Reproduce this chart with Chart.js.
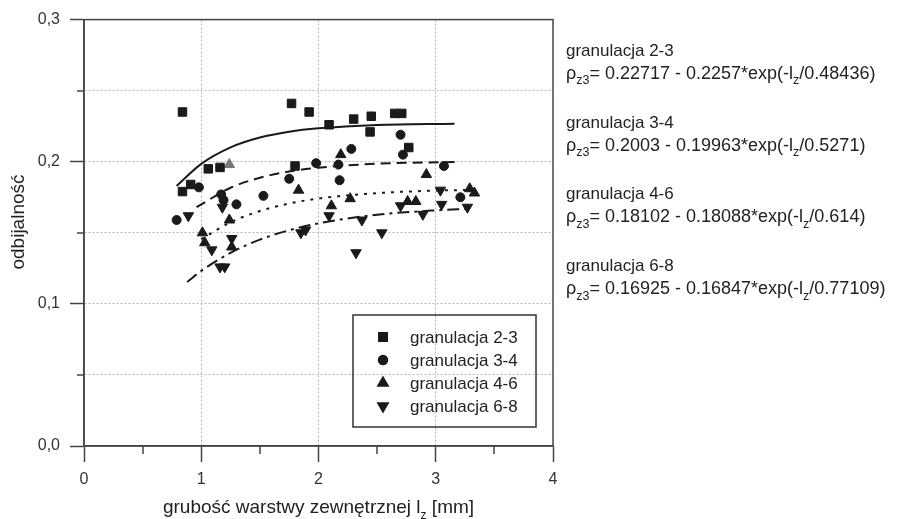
<!DOCTYPE html>
<html>
<head>
<meta charset="utf-8">
<script src="https://cdn.jsdelivr.net/npm/chart.js@4/dist/chart.umd.min.js"></script>
<style>
  html, body { margin: 0; padding: 0; background: #fff; }
</style>
</head>
<body>
<canvas id="myChart" width="899" height="519"></canvas>
<script>
// measured points, granulacja 2-3 (squares)
const g23X = [0.84, 0.84, 0.91, 1.06, 1.16, 1.77, 1.92, 1.80, 2.09, 2.30, 2.45, 2.44, 2.65, 2.71, 2.77]
const g23Y = [0.235, 0.179, 0.184, 0.195, 0.196, 0.241, 0.235, 0.197, 0.226, 0.230, 0.232, 0.221, 0.234, 0.234, 0.210]
// granulacja 3-4 (circles)
const g34X = [0.79, 0.98, 1.17, 1.19, 1.30, 1.53, 1.75, 1.98, 2.17, 2.18, 2.28, 2.70, 2.72, 3.07, 3.21]
const g34Y = [0.159, 0.182, 0.177, 0.173, 0.170, 0.176, 0.188, 0.199, 0.198, 0.187, 0.209, 0.219, 0.205, 0.197, 0.175]
// granulacja 4-6 (triangles)
const g46X = [1.01, 1.03, 1.24, 1.26, 1.24, 1.83, 2.11, 2.19, 2.27, 2.76, 2.83, 2.92, 3.29, 3.33]
const g46Y = [0.150, 0.143, 0.159, 0.140, 0.198, 0.180, 0.169, 0.205, 0.174, 0.172, 0.172, 0.191, 0.181, 0.178]
const g46GreyIdx = 4
// granulacja 6-8 (down triangles)
const g68X = [0.89, 1.18, 1.09, 1.26, 1.16, 1.20, 1.85, 1.89, 2.09, 2.32, 2.37, 2.54, 2.70, 2.89, 3.04, 3.05, 3.27]
const g68Y = [0.162, 0.168, 0.138, 0.146, 0.126, 0.126, 0.150, 0.152, 0.162, 0.136, 0.159, 0.150, 0.169, 0.163, 0.180, 0.170, 0.168]

// fitted curves
const fit23X = [0.79, 1.0, 1.25, 1.5, 1.75, 2.0, 2.5, 3.16]
const fit23Y = [0.183, 0.1985, 0.2101, 0.2170, 0.2211, 0.2235, 0.2259, 0.2268]
const fit34X = [0.96, 1.25, 1.5, 1.75, 2.0, 2.5, 3.18]
const fit34Y = [0.168, 0.1817, 0.1887, 0.1931, 0.1958, 0.1986, 0.1998]
const fit46X = [1.0, 1.25, 1.5, 1.75, 2.0, 2.5, 3.0, 3.27]
const fit46Y = [0.1455, 0.1574, 0.1653, 0.1706, 0.1741, 0.1779, 0.1797, 0.1801]
const fit68X = [0.88, 1.0, 1.25, 1.5, 1.75, 2.0, 2.5, 3.0, 3.27]
const fit68Y = [0.1154, 0.1232, 0.1359, 0.1452, 0.1518, 0.1567, 0.1627, 0.1658, 0.1668]

const seriesNames = ['granulacja 2-3', 'granulacja 3-4', 'granulacja 4-6', 'granulacja 6-8']
const fitA = ['0.22717', '0.2003', '0.18102', '0.16925']
const fitB = ['0.2257', '0.19963', '0.18088', '0.16847']
const fitC = ['0.48436', '0.5271', '0.614', '0.77109']

const xTitle = 'grubość warstwy zewnętrznej l'
const yTitle = 'odbijalność'

const FONT = '"Liberation Sans", Arial, sans-serif'
const ink = '#1a1a1a'
const axisColor = '#444'
const gridColor = '#b5b5b5'

const pts = (xs, ys) => xs.map((x, i) => ({ x: x, y: ys[i] }))

function richWidth(ctx, parts, size, subSize) {
    let w = 0
    parts.forEach(p => {
        ctx.font = (p.sub ? subSize : size) + 'px ' + FONT
        w += ctx.measureText(p.t).width
    })
    return w
}

function drawRich(ctx, parts, x, y, size, subSize) {
    parts.forEach(p => {
        ctx.font = (p.sub ? subSize : size) + 'px ' + FONT
        ctx.fillText(p.t, x, p.sub ? y + size * 0.3 : y)
        x += ctx.measureText(p.t).width
    })
}

const decorations = {
    id: 'decorations',
    afterDraw(chart) {
        const { ctx, chartArea: a, scales: { x, y } } = chart
        ctx.save()

        // frame
        ctx.strokeStyle = axisColor
        ctx.lineWidth = 1.5
        ctx.strokeRect(a.left, a.top, a.right - a.left, a.bottom - a.top)

        // minor ticks
        ctx.beginPath();
        [0.5, 1.5, 2.5, 3.5].forEach(v => {
            const px = Math.round(x.getPixelForValue(v))
            ctx.moveTo(px, a.bottom)
            ctx.lineTo(px, a.bottom + 8)
        });
        [0.05, 0.15, 0.25].forEach(v => {
            const py = Math.round(y.getPixelForValue(v))
            ctx.moveTo(a.left, py)
            ctx.lineTo(a.left - 7, py)
        })
        ctx.stroke()

        // axis titles
        ctx.fillStyle = '#222'
        ctx.textBaseline = 'alphabetic'
        ctx.textAlign = 'left'
        const xt = [{ t: xTitle }, { t: 'z', sub: true }, { t: ' [mm]' }]
        const xw = richWidth(ctx, xt, 19, 12)
        drawRich(ctx, xt, (a.left + a.right) / 2 - xw / 2, 513, 19, 12)

        ctx.save()
        ctx.translate(24, 222)
        ctx.rotate(-Math.PI / 2)
        ctx.font = '19px ' + FONT
        ctx.textAlign = 'center'
        ctx.fillText(yTitle, 0, 0)
        ctx.restore()

        // fit equations on the right
        ctx.textAlign = 'left'
        seriesNames.forEach((name, i) => {
            const base = 56 + i * 71.7
            ctx.font = '17px ' + FONT
            ctx.fillText(name, 566, base)
            drawRich(ctx, [
                { t: 'ρ' }, { t: 'z3', sub: true },
                { t: '= ' + fitA[i] + ' - ' + fitB[i] + '*exp(-l' }, { t: 'z', sub: true },
                { t: '/' + fitC[i] + ')' }
            ], 566, base + 23, 18, 12.5)
        })

        // legend box
        const lx = 353, ly = 315, lw = 183, lh = 112
        ctx.strokeStyle = '#333'
        ctx.lineWidth = 1.5
        ctx.strokeRect(lx, ly, lw, lh)
        const scatterSets = chart.data.datasets.filter(d => !d.showLine)
        scatterSets.forEach((ds, i) => {
            const cy = 337 + i * 23
            ctx.fillStyle = ink
            ctx.strokeStyle = ink
            Chart.helpers.drawPoint(ctx, {
                pointStyle: ds.pointStyle,
                rotation: ds.pointRotation || 0,
                radius: ds.pointRadius,
                borderWidth: 1
            }, 383, cy)
            ctx.fillStyle = '#222'
            ctx.font = '17px ' + FONT
            ctx.textBaseline = 'middle'
            ctx.fillText(ds.label, 410, cy + 1)
        })

        ctx.restore()
    }
}

const lineSet = (xs, ys, dash) => ({
    data: pts(xs, ys),
    showLine: true,
    borderColor: ink,
    borderWidth: 2,
    borderDash: dash,
    pointRadius: 0,
    cubicInterpolationMode: 'monotone',
    fill: false
})

const markSet = (label, xs, ys, style, radius, rotation) => ({
    label: label,
    data: pts(xs, ys),
    pointStyle: style,
    pointRadius: radius,
    pointRotation: rotation,
    backgroundColor: ink,
    borderColor: ink,
    pointBorderWidth: 1
})

const tri46 = markSet(seriesNames[2], g46X, g46Y, 'triangle', 6, 0)
tri46.pointBackgroundColor = c => c.dataIndex === g46GreyIdx ? '#777' : ink
tri46.pointBorderColor = c => c.dataIndex === g46GreyIdx ? '#777' : ink

new Chart(document.getElementById('myChart'), {
    type: 'scatter',
    data: {
        datasets: [
            lineSet(fit23X, fit23Y, []),
            lineSet(fit34X, fit34Y, [10, 6]),
            lineSet(fit46X, fit46Y, [3, 6]),
            lineSet(fit68X, fit68Y, [12, 5, 3, 5]),
            markSet(seriesNames[0], g23X, g23Y, 'rect', 6, 0),
            markSet(seriesNames[1], g34X, g34Y, 'circle', 4.5, 0),
            tri46,
            markSet(seriesNames[3], g68X, g68Y, 'triangle', 6, 180)
        ]
    },
    options: {
        responsive: false,
        animation: false,
        layout: { padding: { left: 0, top: 15, right: 346, bottom: 0 } },
        plugins: {
            legend: { display: false },
            tooltip: { enabled: false }
        },
        scales: {
            x: {
                type: 'linear',
                min: 0,
                max: 4,
                afterFit: s => { s.height = 73 },
                ticks: {
                    stepSize: 0.5,
                    autoSkip: false,
                    maxRotation: 0,
                    padding: 8,
                    color: '#333',
                    font: { size: 16, family: FONT },
                    callback: v => Number.isInteger(v) ? String(v) : ''
                },
                grid: {
                    color: c => (Number.isInteger(c.tick.value) && c.tick.value > 0 && c.tick.value < 4) ? gridColor : 'transparent',
                    tickColor: c => Number.isInteger(c.tick.value) ? axisColor : 'transparent',
                    tickLength: 16,
                    tickWidth: 1.5,
                    lineWidth: 1
                },
                border: { display: true, color: axisColor, width: 1.5, dash: [2, 2] }
            },
            y: {
                type: 'linear',
                min: 0,
                max: 0.3,
                afterFit: s => { s.width = 84 },
                ticks: {
                    stepSize: 0.05,
                    autoSkip: false,
                    padding: 10,
                    color: '#333',
                    font: { size: 16, family: FONT },
                    callback: v => {
                        const k = Math.round(v * 100)
                        return k % 10 === 0 ? (k / 100).toFixed(1).replace('.', ',') : ''
                    }
                },
                grid: {
                    color: c => {
                        const k = Math.round(c.tick.value * 100)
                        return (k > 0 && k < 30) ? gridColor : 'transparent'
                    },
                    tickColor: c => Math.round(c.tick.value * 100) % 10 === 0 ? axisColor : 'transparent',
                    tickLength: 14,
                    tickWidth: 1.5,
                    lineWidth: 1
                },
                border: { display: true, color: axisColor, width: 1.5, dash: [2, 2] }
            }
        }
    },
    plugins: [decorations]
})
</script>
</body>
</html>
